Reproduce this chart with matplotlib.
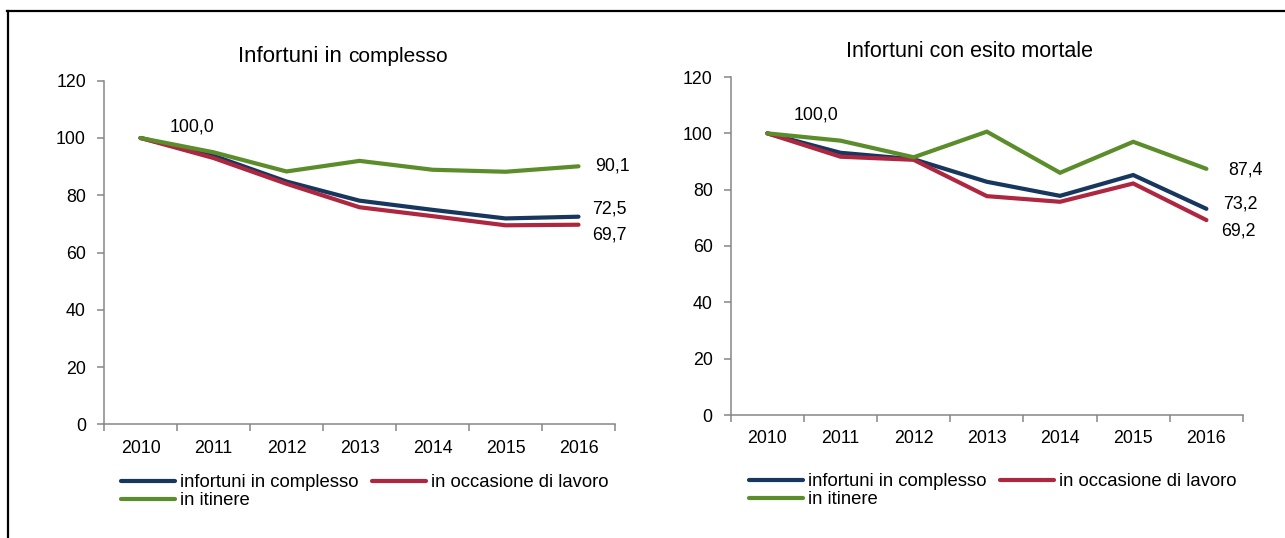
import matplotlib
matplotlib.use('Agg')
import matplotlib.pyplot as plt
from matplotlib.lines import Line2D

plt.rcParams['font.family'] = ['Liberation Sans', 'DejaVu Sans']

anni = ['2010', '2011', '2012', '2013', '2014', '2015', '2016']

# Infortuni in complesso (indice 2010 = 100)
tot_complesso = [100.0, 93.8, 84.8, 78.1, 74.9, 71.9, 72.5]
tot_lavoro = [100.0, 93.0, 84.0, 75.8, 72.7, 69.5, 69.7]
tot_itinere = [100.0, 95.0, 88.3, 92.0, 88.9, 88.2, 90.1]

# Infortuni con esito mortale
mort_complesso = [100.0, 93.1, 90.8, 82.8, 77.8, 85.2, 73.2]
mort_lavoro = [100.0, 91.7, 90.6, 77.7, 75.7, 82.2, 69.2]
mort_itinere = [100.0, 97.4, 91.5, 100.6, 86.0, 97.0, 87.4]

nomi = ['infortuni in complesso', 'in occasione di lavoro', 'in itinere']
colori = ['#17375E', '#AE2740', '#5B8D2B']

W, H = 1285, 538
fig = plt.figure(figsize=(W / 100, H / 100), dpi=100)

grigio = '#868686'


def disegna(ax, serie, etichette):
    x = list(range(len(anni)))
    linee = []
    for valori, col, nome in zip(serie, colori, nomi):
        l, = ax.plot(x, valori, color=col, lw=3, solid_capstyle='round',
                     solid_joinstyle='miter', label=nome)
        linee.append(l)
    # itinere disegnata sopra
    linee[2].set_zorder(3)
    ax.set_xlim(-0.5, len(anni) - 0.5)
    ax.set_ylim(0, 120)
    ax.set_yticks(range(0, 121, 20))
    ax.set_xticks(x)
    ax.set_xticklabels(anni)
    ax.set_xticks([i - 0.5 for i in range(len(anni) + 1)], minor=True)
    ax.tick_params(axis='x', which='major', length=0, pad=11, labelsize=12.8)
    ax.tick_params(axis='x', which='minor', length=5, width=1.1, color=grigio, direction='out')
    ax.tick_params(axis='y', length=5, width=1.1, color=grigio, pad=8, labelsize=12.8)
    for s in ['top', 'right']:
        ax.spines[s].set_visible(False)
    for s in ['left', 'bottom']:
        ax.spines[s].set_color(grigio)
        ax.spines[s].set_linewidth(1.1)
    for idx, valore, dx, dy, ha in etichette:
        ax.annotate(f'{valore:.1f}'.replace('.', ','), xy=(idx, valore),
                    xytext=(dx, dy), textcoords='offset pixels',
                    ha=ha, va='center', fontsize=12.8)
    return linee


ax1 = fig.add_axes([104 / W, 1 - 424.3 / H, 511 / W, 343.6 / H])
linee = disegna(ax1, [tot_complesso, tot_lavoro, tot_itinere], [
    (0, tot_itinere[0], 51.5, 11, 'center'),
    (6, tot_itinere[6], 16.5, 0, 'left'),
    (6, tot_complesso[6], 13.5, 8, 'left'),
    (6, tot_lavoro[6], 13.5, -10.6, 'left'),
])

ax2 = fig.add_axes([730.7 / W, 1 - 415 / H, 512.3 / W, 338 / H])
disegna(ax2, [mort_complesso, mort_lavoro, mort_itinere], [
    (0, mort_itinere[0], 49, 18, 'center'),
    (6, mort_itinere[6], 21.5, -1, 'left'),
    (6, mort_complesso[6], 17, 4.5, 'left'),
    (6, mort_lavoro[6], 14.5, -11, 'left'),
])

# titoli
fig.text(238 / W, 1 - 62 / H, 'Infortuni in', fontsize=16, va='baseline', ha='left')
fig.text(348 / W, 1 - 62 / H, 'complesso', fontsize=15, va='baseline', ha='left')
fig.text(846 / W, 1 - 57 / H, 'Infortuni con esito mortale', fontsize=15.5,
         va='baseline', ha='left')

# legende (ordine per colonne: complesso, itinere | lavoro)
ordine = [0, 2, 1]
for x0, y0 in [(121, 474), (749, 473)]:
    fig.legend([linee[i] for i in ordine], [nomi[i] for i in ordine],
               loc='upper left', bbox_to_anchor=(x0 / W, 1 - y0 / H),
               bbox_transform=fig.transFigure, ncol=2, frameon=False,
               fontsize=13.3, handlelength=2.95, handletextpad=0.25,
               columnspacing=0.7, labelspacing=0.08, borderpad=0,
               borderaxespad=0)

# cornice
fig.add_artist(Line2D([7 / W, 1], [1 - 10.5 / H, 1 - 10.5 / H],
                      transform=fig.transFigure, color='black', lw=1.6))
fig.add_artist(Line2D([7.5 / W, 7.5 / W], [0, 1 - 10.5 / H],
                      transform=fig.transFigure, color='black', lw=1.6))

fig.savefig('out.png', dpi=100)
